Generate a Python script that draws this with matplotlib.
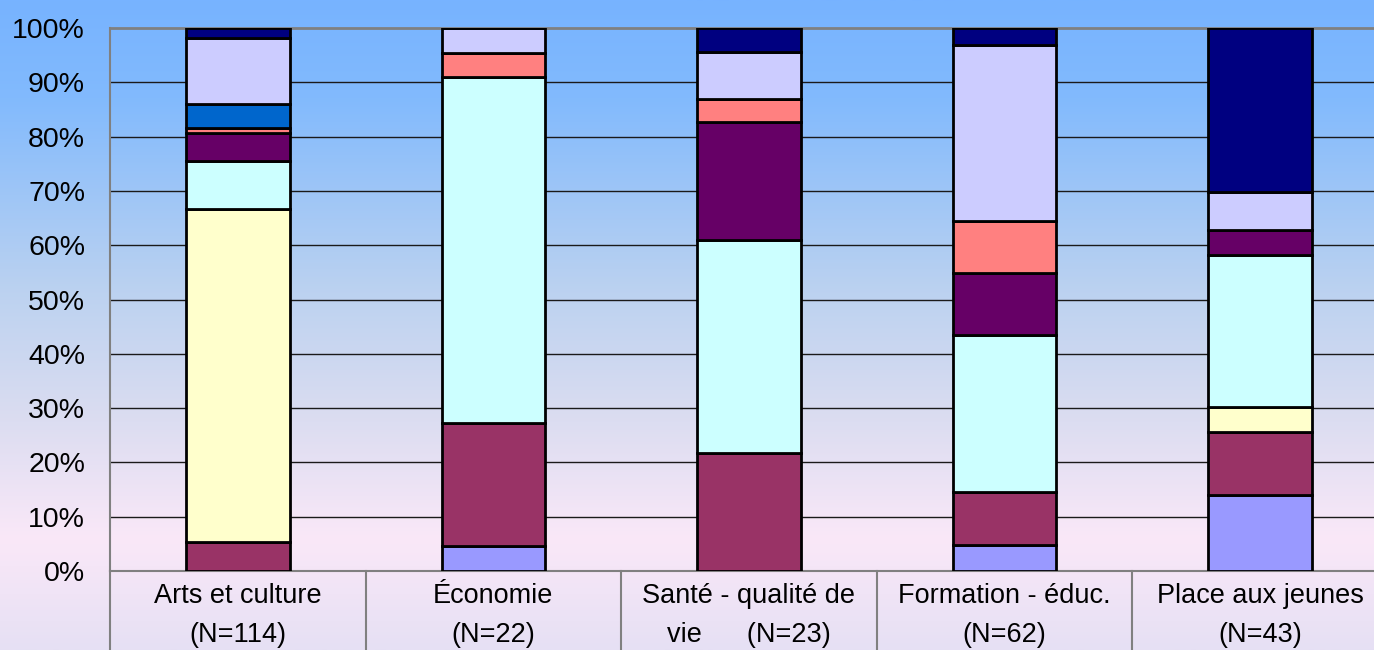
import numpy as np
import matplotlib
matplotlib.use("Agg")
import matplotlib.pyplot as plt
from matplotlib.colors import LinearSegmentedColormap
from matplotlib.transforms import blended_transform_factory

plt.rcParams['font.family'] = ['Liberation Sans', 'DejaVu Sans']

categories = ["Arts et culture\n(N=114)", "Économie\n(N=22)",
              "Santé - qualité de\nvie      (N=23)", "Formation - éduc.\n(N=62)",
              "Place aux jeunes\n(N=43)"]

# percentage per segment (bottom to top)
periwinkle = [0.0, 4.55, 0.0, 4.84, 13.95]
maroon     = [5.26, 22.73, 21.74, 9.68, 11.63]
yellow     = [61.40, 0.0, 0.0, 0.0, 4.65]
cyan       = [8.77, 63.64, 39.13, 29.03, 27.91]
purple     = [5.26, 0.0, 21.74, 11.29, 4.65]
salmon     = [0.88, 4.55, 4.35, 9.68, 0.0]
blue       = [4.39, 0.0, 0.0, 0.0, 0.0]
lavender   = [12.28, 4.55, 8.70, 32.26, 6.98]
navy       = [1.75, 0.0, 4.35, 3.23, 30.23]

series = [periwinkle, maroon, yellow, cyan, purple, salmon, blue, lavender, navy]
colors = ["#9999FF", "#993366", "#FFFFCC", "#CCFFFF", "#660066",
          "#FF8080", "#0066CC", "#CCCCFF", "#000080"]
yticks = [0, 10, 20, 30, 40, 50, 60, 70, 80, 90, 100]
ytick_labels = ["0%", "10%", "20%", "30%", "40%", "50%", "60%", "70%", "80%", "90%", "100%"]

W, H = 1374, 650
fig = plt.figure(figsize=(W / 100, H / 100), dpi=100)

# background gradient
bg = fig.add_axes([0, 0, 1, 1], zorder=-10)
cmap = LinearSegmentedColormap.from_list(
    "bg", [(0.0, "#77B3FF"), (0.15, "#82BAFD"), (0.45, "#BCD2F0"),
           (0.65, "#DCDDF1"), (0.83, "#FAE8F8"), (1.0, "#E6E0F4")])
grad = np.linspace(0, 1, 256).reshape(-1, 1)
bg.imshow(grad, aspect="auto", cmap=cmap, extent=[0, 1, 0, 1], origin="upper")
bg.set_axis_off()

left = 110 / W
bottom = (H - 571) / H
top = (H - 28) / H
right = 1388 / W
ax = fig.add_axes([left, bottom, right - left, top - bottom])
ax.set_facecolor("none")

x = np.arange(len(categories))
base = np.zeros(len(categories))
for vals, col in zip(series, colors):
    v = np.array(vals)
    ax.bar(x, v, bottom=base, width=0.405, color=col, edgecolor="black",
           linewidth=2.0, zorder=3)
    base += v

ax.set_xlim(-0.5, len(categories) - 0.5)
ax.set_ylim(0, 100)
ax.set_yticks(yticks)
ax.set_yticklabels(ytick_labels, fontsize=20.5)
ax.tick_params(axis="y", length=0, pad=18)
ax.set_xticks([])
for yv in yticks[1:-1]:
    ax.axhline(yv, color="#1a1a1a", linewidth=1.0, zorder=1)

for s in ["right", "bottom"]:
    ax.spines[s].set_visible(False)
ax.spines["left"].set_color("#808080")
ax.spines["left"].set_linewidth(1.5)
ax.spines["top"].set_color("#808080")
ax.spines["top"].set_linewidth(2.0)
ax.axhline(0, color="#808080", linewidth=1.5, zorder=2, clip_on=False)

# category table below axis
trans = blended_transform_factory(ax.transData, ax.transAxes)
depth = (650 - 571) / (571 - 28)
for k in range(len(categories) + 1):
    ax.plot([k - 0.5, k - 0.5], [0, -depth], transform=trans, color="#808080",
            linewidth=1.5, clip_on=False)
for k, lab in enumerate(categories):
    l1, l2 = lab.split("\n")
    ax.text(k, -25 / 543, l1, transform=trans, ha="center", va="center",
            fontsize=19.5, clip_on=False)
    ax.text(k, -64 / 543, l2, transform=trans, ha="center", va="center",
            fontsize=19.5, clip_on=False)

fig.savefig("out.png", dpi=100)
